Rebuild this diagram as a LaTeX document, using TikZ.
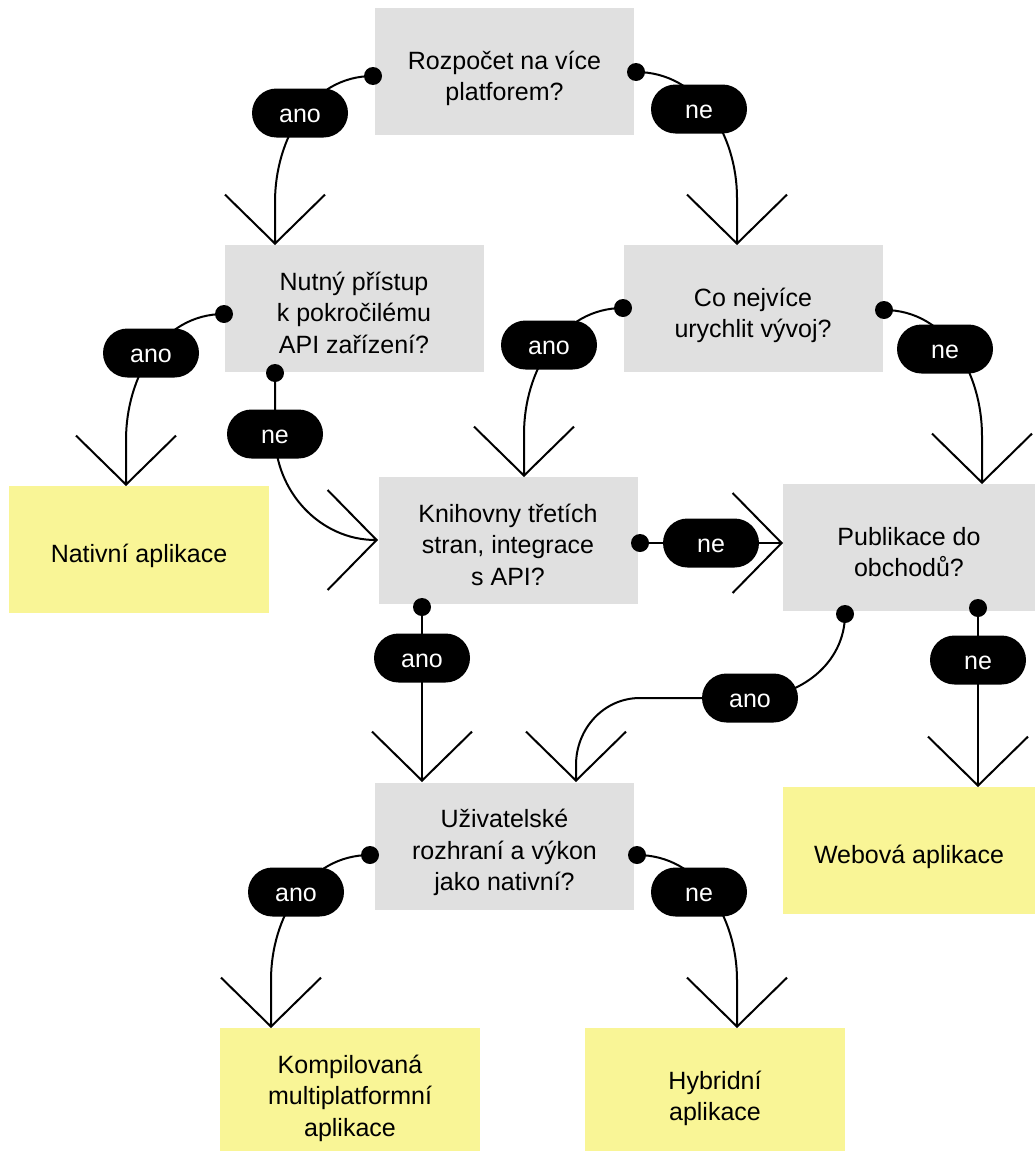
\documentclass[tikz,border=0pt]{standalone}
\usepackage{fontspec}
\setmainfont{Liberation Sans}
\usetikzlibrary{arrows.meta}
\definecolor{askgray}{RGB}{224,224,224}
\definecolor{resyellow}{RGB}{249,245,150}

% centred multi-line box text, set a little below the geometric middle
\newcommand\boxlines[1]{\raisebox{-7pt}[\height][\depth]{\begin{tabular}{@{}c@{}}#1\end{tabular}}}
% answer word, lowered slightly inside its pill
\newcommand\answer[1]{\raisebox{-2.5pt}[\height][\depth]{#1}}

\tikzset{
  box/.style={inner sep=0pt, minimum height=127pt,
    font=\fontsize{25}{31.5}\selectfont},
  askbox/.style={box, fill=askgray, minimum width=259pt},
  resbox/.style={box, fill=resyellow, minimum width=260pt},
  pill/.style={fill=black, text=white, rounded corners=24.5pt, minimum width=96pt,
    minimum height=49pt, inner sep=0pt, font=\fontsize{25}{30}\selectfont},
  knob/.style={circle, fill=black, minimum size=18pt, inner sep=0pt},
  wire/.style={line width=2pt},
  flow/.style={wire, -{Straight Barb[length=49pt, width=100pt]}},
}

\begin{document}
\begin{tikzpicture}[x=1pt,y=-1pt]
\fill[white] (0,0) rectangle (1035,1151);
\useasboundingbox (0,0) rectangle (1035,1151);
\clip (0,0) rectangle (1035,1151);

% questions
\node[askbox] (budget) at (504.5,71.5) {\boxlines{Rozpočet na více\\platforem?}};
\node[askbox] (device) at (354,308.5) {\boxlines{Nutný přístup\\k pokročilému\\API zařízení?}};
\node[askbox] (speed) at (753,308.5) {\boxlines{Co nejvíce\\urychlit vývoj?}};
\node[askbox] (libs) at (508,540.5) {\boxlines{Knihovny třetích\\stran, integrace\\s API?}};
\node[askbox, minimum width=252pt] (store) at (909,547.5) {\boxlines{Publikace do\\obchodů?}};
\node[askbox] (ux) at (504.5,846) {\boxlines{Uživatelské\\rozhraní a výkon\\jako nativní?}};

% outcomes
\node[resbox] (native) at (139,549.5) {\boxlines{Nativní aplikace}};
\node[resbox, minimum width=252pt] (web) at (909,850.5) {\boxlines{Webová aplikace}};
\node[resbox] (compiled) at (350,1091.5) {\boxlines{Kompilovaná\\multiplatformní\\aplikace}};
\node[resbox] (hybrid) at (715,1091.5) {\boxlines{Hybridní\\aplikace}};

% connector start points on the question boxes
\coordinate (k1) at (373,76);
\coordinate (k2) at (636,72);
\coordinate (k3) at (224,314);
\coordinate (k4) at (275,373);
\coordinate (k5) at (623,308);
\coordinate (k6) at (884,310);
\coordinate (k7) at (640,543);
\coordinate (k8) at (422,607);
\coordinate (k9) at (845,614);
\coordinate (k10) at (978,608);
\coordinate (k11) at (370,855);
\coordinate (k12) at (637,855);

% answer labels
\coordinate (a1) at (300,113);
\coordinate (a2) at (699,109);
\coordinate (a3) at (151,353);
\coordinate (a4) at (275,434);
\coordinate (a5) at (549,345);
\coordinate (a6) at (945,349);
\coordinate (a7) at (711,543);
\coordinate (a8) at (422,658);
\coordinate (a9) at (750,698);
\coordinate (a10) at (978,660);
\coordinate (a11) at (296,892);
\coordinate (a12) at (699,892);

% arrow targets on the box edges
\coordinate (t1) at (275,245);
\coordinate (t2) at (737,245);
\coordinate (t3) at (126,486);
\coordinate (t4) at (378,540);
\coordinate (t5) at (524,477);
\coordinate (t6) at (982,484);
\coordinate (t7) at (783,543);
\coordinate (t8) at (422,782);
\coordinate (t9) at (576,782);
\coordinate (t10) at (978,787);
\coordinate (t11) at (271,1028);
\coordinate (t12) at (737,1028);

% connectors
\draw[flow] (k1) to[out=180,in=90] (275,202) -- (t1);
\draw[flow] (k2) to[out=0,in=90] (737,198) -- (t2);
\draw[flow] (k3) to[out=180,in=90] (126,440) -- (t3);
\draw[flow] (k4) -- (a4) to[out=-90,in=180] (t4);
\draw[flow] (k5) to[out=180,in=90] (524,434) -- (t5);
\draw[flow] (k6) to[out=0,in=90] (982,436) -- (t6);
\draw[flow] (k7) -- (a7) -- (t7);
\draw[flow] (k8) -- (a8) -- (t8);
\draw[flow] (k9) to[out=-90,in=0] (a9) -- (640,698) to[out=180,in=90] (576,765) -- (t9);
\draw[flow] (k10) -- (a10) -- (t10);
\draw[flow] (k11) to[out=180,in=90] (271,980) -- (t11);
\draw[flow] (k12) to[out=0,in=90] (737,980) -- (t12);

% answer pills
\foreach \p/\txt in {a1/ano, a2/ne, a3/ano, a4/ne, a5/ano, a6/ne, a7/ne,
                     a8/ano, a9/ano, a10/ne, a11/ano, a12/ne}
  \node[pill] (\p-label) at (\p) {\answer{\txt}};

% start knobs
\foreach \k in {k1,k2,k3,k4,k5,k6,k7,k8,k9,k10,k11,k12}
  \node[knob] (\k-dot) at (\k) {};
\end{tikzpicture}
\end{document}
